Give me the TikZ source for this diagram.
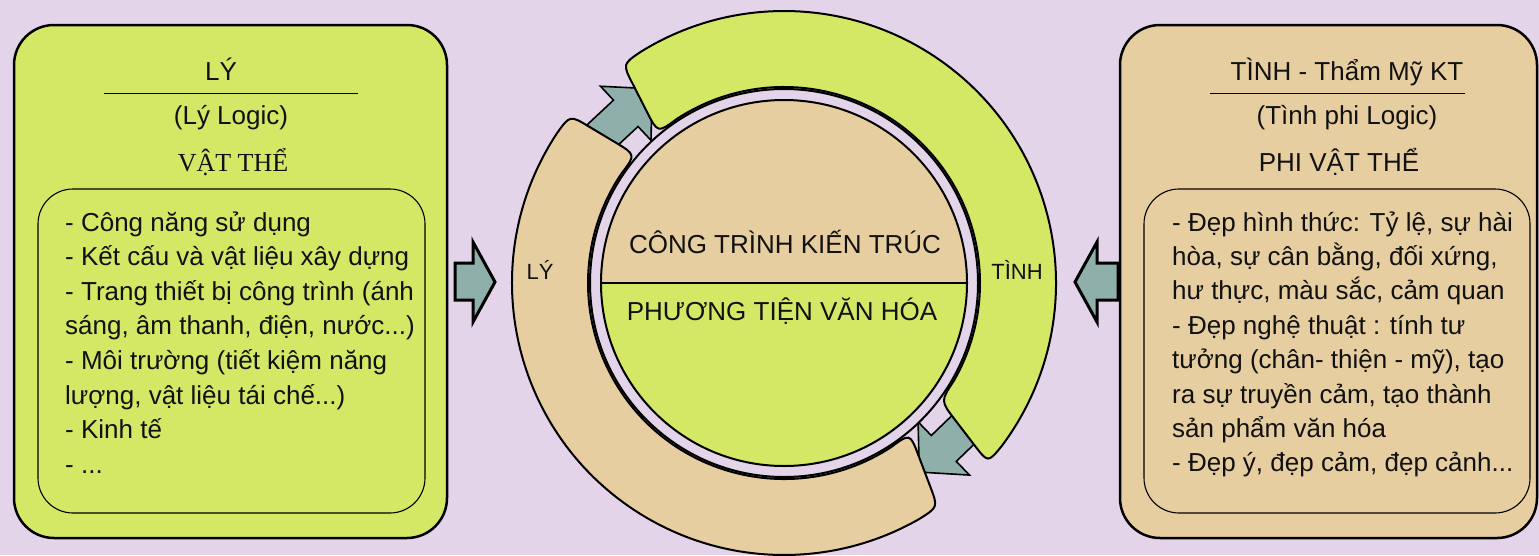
\documentclass[tikz,border=0pt]{standalone}
\usepackage{fontspec}
\setmainfont{Liberation Sans}
\newfontfamily\timesvn{Liberation Serif}
\usetikzlibrary{calc}

\definecolor{bgcol}{HTML}{E3D4EA}
\definecolor{limecol}{HTML}{D4E866}
\definecolor{sandcol}{HTML}{E7CEA0}
\definecolor{tealcol}{HTML}{8FB0AA}
\definecolor{inkcol}{HTML}{111111}

% ring geometry (pt)
\def\rIn{196}
\def\rOut{272}
\def\rCi{24}% rounding of inner corners
\def\rCo{22}% rounding of outer corners

% annular band with slanted, rounded ends
% #1 name, #2/#3 start angle on inner/outer edge, #4/#5 end angle on inner/outer edge, #6 fill
\newcommand\ringband[6]{%
  \pgfmathsetmacro\rbDi{\rCi/\rIn*180/pi}%
  \pgfmathsetmacro\rbDo{\rCo/\rOut*180/pi}%
  \coordinate (#1-i1) at (#2:\rIn);
  \coordinate (#1-o1) at (#3:\rOut);
  \coordinate (#1-i2) at (#4:\rIn);
  \coordinate (#1-o2) at (#5:\rOut);
  \draw[band, fill=#6]
    (#3+\rbDo:\rOut) arc[start angle=#3+\rbDo, end angle=#5-\rbDo, radius=\rOut]
    .. controls (#1-o2) .. ($(#1-o2)!\rCo pt!(#1-i2)$)
    -- ($(#1-i2)!\rCi pt!(#1-o2)$)
    .. controls (#1-i2) .. (#4-\rbDi:\rIn)
    arc[start angle=#4-\rbDi, end angle=#2+\rbDi, radius=\rIn]
    .. controls (#1-i1) .. ($(#1-i1)!\rCi pt!(#1-o1)$)
    -- ($(#1-o1)!\rCo pt!(#1-i1)$)
    .. controls (#1-o1) .. cycle;
}

\tikzset{
  outerbox/.style={draw=black, line width=2.5pt, rounded corners=40pt},
  innerbox/.style={draw=black, line width=1.1pt, rounded corners=35pt},
  band/.style={draw=black, line width=2pt},
  bigarrow/.style={draw=black, fill=tealcol, line width=3pt, line join=miter},
  smallarrow/.style={draw=black, fill=tealcol, line width=1.6pt, line join=miter},
  rulebar/.style={draw=black, line width=1pt},
  txt/.style={inner sep=0pt, text=inkcol, font=\fontsize{26}{31}\selectfont},
  ttl/.style={txt, anchor=base},
  bodyline/.style={txt, anchor=base west},
  ringlabel/.style={inner sep=0pt, text=inkcol, anchor=base, font=\fontsize{22}{26}\selectfont},
}

\begin{document}
\begin{tikzpicture}[x=1pt, y=-1pt]
  \fill[bgcol] (0,0) rectangle (1539,555);
  \useasboundingbox (0,0) rectangle (1539,555);

  % ---- side panels ----
  \draw[outerbox, fill=limecol] (14,25) rectangle (447,538);
  \draw[innerbox] (38,189) rectangle (425,513);
  \draw[outerbox, fill=sandcol] (1120,25) rectangle (1537,538);
  \draw[innerbox] (1144,189) rectangle (1530,513);

  \node[ttl] (lyTitle) at (221,80) {LÝ};
  \draw[rulebar] (104,93) -- (358,93);
  \node[ttl] (lyLogic) at (231,124) {(Lý Logic)};
  \node[ttl, font=\timesvn\fontsize{26}{31}\selectfont] (lyVat) at (233,171) {VẬT THỂ};

  \node[ttl] (tinhTitle) at (1347,80) {TÌNH - Thẩm Mỹ KT};
  \draw[rulebar] (1210,93) -- (1465,93);
  \node[ttl] (tinhLogic) at (1347,124) {(Tình phi Logic)};
  \node[ttl] (tinhPhi) at (1339,171) {PHI VẬT THỂ};

  % left list, baselines 34.6pt apart
  \node[bodyline] (ly0) at (65,231.0) {- Công năng sử dụng};
  \node[bodyline] (ly1) at (65,265.6) {- Kết cấu và vật liệu xây dựng};
  \node[bodyline] (ly2) at (65,300.2) {- Trang thiết bị công trình (ánh};
  \node[bodyline] (ly3) at (65,334.8) {sáng, âm thanh, điện, nước...)};
  \node[bodyline] (ly4) at (65,369.4) {- Môi trường (tiết kiệm năng};
  \node[bodyline] (ly5) at (65,404.0) {lượng, vật liệu tái chế...)};
  \node[bodyline] (ly6) at (65,438.6) {- Kinh tế};
  \node[bodyline] (ly7) at (65,473.2) {- ...};

  % right list, baselines 34.4pt apart
  \node[bodyline] (tinh0) at (1172,231.0) {- Đẹp hình thức: Tỷ lệ, sự hài};
  \node[bodyline] (tinh1) at (1172,265.4) {hòa, sự cân bằng, đối xứng,};
  \node[bodyline] (tinh2) at (1172,299.8) {hư thực, màu sắc, cảm quan};
  \node[bodyline] (tinh3) at (1172,334.2) {- Đẹp nghệ thuật : tính tư};
  \node[bodyline] (tinh4) at (1172,368.6) {tưởng (chân- thiện - mỹ), tạo};
  \node[bodyline] (tinh5) at (1172,403.0) {ra sự truyền cảm, tạo thành};
  \node[bodyline] (tinh6) at (1172,437.4) {sản phẩm văn hóa};
  \node[bodyline] (tinh7) at (1172,471.8) {- Đẹp ý, đẹp cảm, đẹp cảnh...};

  % ---- block arrows towards the centre ----
  \draw[bigarrow] (455,263) -- (473,263) -- (473,242) -- (495,282)
                  -- (473,322) -- (473,300) -- (455,300) -- cycle;
  \draw[bigarrow] (1118,263) -- (1097,263) -- (1097,242) -- (1075,282)
                  -- (1097,322) -- (1097,300) -- (1118,300) -- cycle;

  % ---- central ring ----
  \begin{scope}[shift={(784,283)}, yscale=-1]
    \coordinate (hub) at (0,0);
    % arrows in the two gaps, running clockwise (drawn under the bands)
    \begin{scope}[shift={(133:232)}, rotate=-43]
      \draw[smallarrow] (-50,-18) -- (0,-18) -- (0,-37) -- (36,0)
                        -- (0,37) -- (0,18) -- (-50,18) -- cycle;
    \end{scope}
    \begin{scope}[shift={(-46:230)}, rotate=136]
      \draw[smallarrow] (-50,-18) -- (0,-18) -- (0,-37) -- (34,0)
                        -- (0,37) -- (0,18) -- (-50,18) -- cycle;
    \end{scope}

    \ringband{tinhBand}{-37}{-41.4}{130.1}{126.4}{limecol}
    \ringband{lyBand}{139.1}{141.9}{310}{304.5}{sandcol}

    \draw[band, fill=bgcol] (hub) circle[radius=194];
    \fill[sandcol] (183,0) arc[start angle=0, end angle=180, radius=183] -- cycle;
    \fill[limecol] (-183,0) arc[start angle=180, end angle=360, radius=183] -- cycle;
    \draw[band] (hub) circle[radius=183];
    \draw[band] (-183,0) -- (183,0);
  \end{scope}

  \node[ttl] (hubTop) at (785,253) {CÔNG TRÌNH KIẾN TRÚC};
  \node[ttl] (hubBottom) at (782,320) {PHƯƠNG TIỆN VĂN HÓA};
  \node[ringlabel] (lyLabel) at (540,279) {LÝ};
  \node[ringlabel] (tinhLabel) at (1017,279) {TÌNH};
\end{tikzpicture}
\end{document}
